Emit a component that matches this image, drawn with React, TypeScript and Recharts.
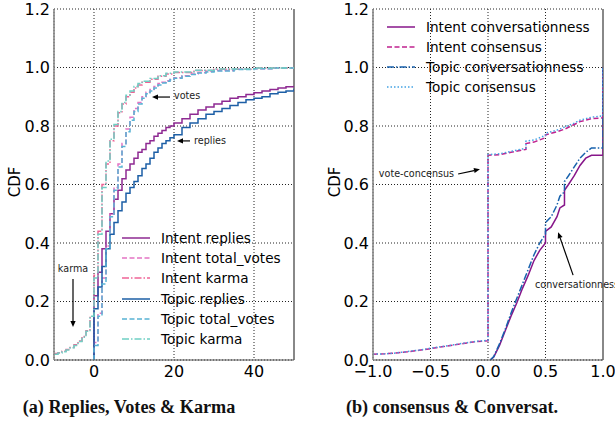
import React from "react";
import {
  LineChart,
  Line,
  XAxis,
  YAxis,
  CartesianGrid,
  ReferenceLine,
  Legend,
} from "recharts";

const FONT = "'DejaVu Sans', sans-serif";

// (a) replies / votes / karma — empirical CDFs
const replyX = [0, 0, 1, 2, 3, 4, 5, 6, 7, 8, 9, 10, 11, 12, 13, 14, 15, 16, 17, 18, 19, 20, 22, 24, 26, 28, 30, 32, 34, 36, 38, 40, 42, 44, 46, 48, 50];
const intentRepliesY = [0, 0.22, 0.3, 0.38, 0.44, 0.5, 0.55, 0.58, 0.62, 0.65, 0.67, 0.69, 0.71, 0.72, 0.74, 0.75, 0.765, 0.775, 0.785, 0.795, 0.8, 0.81, 0.825, 0.84, 0.855, 0.865, 0.875, 0.885, 0.895, 0.9, 0.908, 0.914, 0.92, 0.925, 0.93, 0.934, 0.938];
const topicRepliesY = [0, 0.175, 0.25, 0.32, 0.38, 0.43, 0.47, 0.51, 0.54, 0.57, 0.59, 0.61, 0.63, 0.655, 0.67, 0.69, 0.71, 0.725, 0.74, 0.75, 0.76, 0.77, 0.795, 0.81, 0.825, 0.84, 0.85, 0.86, 0.87, 0.88, 0.89, 0.895, 0.9, 0.91, 0.915, 0.92, 0.927];

const votesX = [0, 0, 1, 2, 3, 4, 5, 6, 7, 8, 9, 10, 11, 12, 13, 14, 15, 16, 17, 18, 19, 20, 22, 24, 26, 28, 30, 35, 40, 45, 50];
const intentVotesY = [0, 0.06, 0.16, 0.28, 0.39, 0.5, 0.59, 0.67, 0.74, 0.79, 0.83, 0.86, 0.88, 0.9, 0.915, 0.925, 0.935, 0.945, 0.95, 0.955, 0.96, 0.965, 0.972, 0.978, 0.983, 0.987, 0.99, 0.994, 0.996, 0.998, 0.999];
const topicVotesY = [0, 0.05, 0.15, 0.26, 0.38, 0.49, 0.58, 0.66, 0.73, 0.78, 0.82, 0.85, 0.875, 0.895, 0.91, 0.92, 0.93, 0.94, 0.947, 0.953, 0.958, 0.963, 0.97, 0.976, 0.981, 0.985, 0.988, 0.993, 0.996, 0.998, 0.999];

const karmaX = [-10, -9, -8, -7, -6, -5, -4, -3, -2, -1, 0, 1, 2, 3, 4, 5, 6, 7, 8, 9, 10, 11, 12, 14, 16, 18, 20, 25, 30, 40, 50];
const intentKarmaY = [0.022, 0.025, 0.03, 0.036, 0.043, 0.052, 0.065, 0.08, 0.1, 0.145, 0.29, 0.44, 0.6, 0.67, 0.75, 0.8, 0.845, 0.875, 0.9, 0.915, 0.93, 0.94, 0.95, 0.96, 0.97, 0.978, 0.983, 0.99, 0.994, 0.998, 1.0];
const topicKarmaY = [0.02, 0.024, 0.028, 0.034, 0.042, 0.05, 0.063, 0.078, 0.098, 0.15, 0.28, 0.43, 0.59, 0.68, 0.755, 0.805, 0.85, 0.88, 0.905, 0.92, 0.935, 0.945, 0.953, 0.962, 0.972, 0.98, 0.985, 0.991, 0.995, 0.998, 1.0];

// (b) consensus & conversationness
const consensusX = [-1, -0.9, -0.8, -0.7, -0.6, -0.5, -0.4, -0.3, -0.2, -0.1, 0, 0, 0.1, 0.2, 0.33, 0.33, 0.4, 0.5, 0.5, 0.6, 0.67, 0.75, 0.8, 0.9, 1, 1];
const intentConsensusY = [0.02, 0.021, 0.024, 0.028, 0.033, 0.039, 0.045, 0.051, 0.057, 0.063, 0.066, 0.7, 0.702, 0.71, 0.72, 0.74, 0.745, 0.76, 0.77, 0.78, 0.79, 0.805, 0.815, 0.825, 0.828, 1.0];
const topicConsensusY = [0.02, 0.021, 0.024, 0.029, 0.034, 0.04, 0.046, 0.052, 0.058, 0.064, 0.067, 0.702, 0.705, 0.713, 0.724, 0.748, 0.752, 0.768, 0.775, 0.786, 0.797, 0.81, 0.82, 0.83, 0.835, 1.0];

const conversX = [0.02, 0.05, 0.1, 0.15, 0.2, 0.25, 0.3, 0.35, 0.4, 0.45, 0.5, 0.5, 0.55, 0.6, 0.625, 0.665, 0.665, 0.7, 0.75, 0.8, 0.85, 0.9, 1, 1];
const intentConversY = [0, 0.01, 0.05, 0.1, 0.15, 0.195, 0.245, 0.29, 0.34, 0.375, 0.4, 0.44, 0.455, 0.49, 0.52, 0.53, 0.58, 0.6, 0.63, 0.665, 0.69, 0.7, 0.7, 1.0];
const topicConversY = [0, 0.012, 0.055, 0.105, 0.16, 0.21, 0.26, 0.31, 0.36, 0.4, 0.43, 0.47, 0.49, 0.53, 0.56, 0.575, 0.61, 0.63, 0.66, 0.69, 0.71, 0.725, 0.725, 1.0];

const yTicks = [0, 0.2, 0.4, 0.6, 0.8, 1.0, 1.2];
const leftXTicks = [0, 20, 40];
const rightXTicks = [-1, -0.5, 0, 0.5, 1];

const zip = (xs: number[], ys: number[]) => xs.map((x, i) => ({ x, y: ys[i] }));

type Series = {
  name: string;
  data: { x: number; y: number }[];
  color: string;
  dash?: string;
  curve: "stepAfter" | "linear";
};

const DASH = "5 2.5";
const DASHDOT = "7 2 1.5 2";
const DOT = "1.5 2";

const leftSeries: Series[] = [
  { name: "Intent replies", data: zip(replyX, intentRepliesY), color: "#8e2a92", curve: "stepAfter" },
  { name: "Intent total_votes", data: zip(votesX, intentVotesY), color: "#e374c4", dash: DASH, curve: "stepAfter" },
  { name: "Intent karma", data: zip(karmaX, intentKarmaY), color: "#ef6496", dash: DASHDOT, curve: "stepAfter" },
  { name: "Topic replies", data: zip(replyX, topicRepliesY), color: "#1d5fa6", curve: "stepAfter" },
  { name: "Topic total_votes", data: zip(votesX, topicVotesY), color: "#58b2d4", dash: DASH, curve: "stepAfter" },
  { name: "Topic karma", data: zip(karmaX, topicKarmaY), color: "#6fcfc4", dash: DASHDOT, curve: "stepAfter" },
];

const rightSeries: Series[] = [
  { name: "Intent conversationness", data: zip(conversX, intentConversY), color: "#87168a", curve: "linear" },
  { name: "Intent consensus", data: zip(consensusX, intentConsensusY), color: "#c0228f", dash: DASH, curve: "linear" },
  { name: "Topic conversationness", data: zip(conversX, topicConversY), color: "#1862ad", dash: DASHDOT, curve: "linear" },
  { name: "Topic consensus", data: zip(consensusX, topicConsensusY), color: "#43a2e4", dash: DOT, curve: "linear" },
];

type Note = {
  text: string;
  from: { x: number; y: number };
  to: { x: number; y: number };
  anchor: "start" | "middle" | "end";
  dx: number;
  dy: number;
};

const leftNotes: Note[] = [
  { text: "votes", from: { x: 19, y: 0.899 }, to: { x: 14.5, y: 0.899 }, anchor: "start", dx: 4, dy: -2 },
  { text: "replies", from: { x: 24, y: 0.749 }, to: { x: 20.75, y: 0.749 }, anchor: "start", dx: 4, dy: 0 },
  { text: "karma", from: { x: -5.25, y: 0.277 }, to: { x: -5.25, y: 0.113 }, anchor: "middle", dx: 0, dy: -10 },
];

const rightNotes: Note[] = [
  { text: "vote-concensus", from: { x: -0.26, y: 0.636 }, to: { x: -0.07, y: 0.652 }, anchor: "end", dx: -4, dy: 0 },
  { text: "conversationness", from: { x: 0.74, y: 0.29 }, to: { x: 0.61, y: 0.437 }, anchor: "start", dx: -38, dy: 9 },
];

const arrowShape = (n: Note) => (p: any) => {
  const { x1, y1, x2, y2 } = p;
  const ang = Math.atan2(y2 - y1, x2 - x1);
  const c = Math.cos(ang);
  const s = Math.sin(ang);
  const bx = x2 - 6 * c;
  const by = y2 - 6 * s;
  const pts = `${x2},${y2} ${bx - 2.6 * s},${by + 2.6 * c} ${bx + 2.6 * s},${by - 2.6 * c}`;
  return (
    <g>
      <line x1={x1} y1={y1} x2={bx} y2={by} stroke="#000" strokeWidth={1.2} />
      <polygon points={pts} fill="#000" />
      <text
        x={x1 + n.dx}
        y={y1 + n.dy}
        textAnchor={n.anchor}
        dominantBaseline="central"
        fontSize={9.6}
        fontFamily={FONT}
        fill="#222"
      >
        {n.text}
      </text>
    </g>
  );
};

function LegendBox({ items, rowH }: { items: Series[]; rowH: number }) {
  return (
    <div style={{ fontFamily: FONT, fontSize: 13.6, color: "#000" }}>
      {items.map((s) => (
        <div key={s.name} style={{ display: "flex", alignItems: "center", height: rowH, whiteSpace: "nowrap" }}>
          <svg width={28} height={8} style={{ marginRight: 11 }}>
            <line x1={0} y1={4} x2={28} y2={4} stroke={s.color} strokeWidth={1.5} strokeDasharray={s.dash} />
          </svg>
          <span>{s.name}</span>
        </div>
      ))}
    </div>
  );
}

const tickStyle = { fill: "#000", fontSize: 16, fontFamily: FONT };
const fmt1 = (v: number) => (v < 0 ? "\u2212" + Math.abs(v).toFixed(1) : v.toFixed(1));

function Panel(props: {
  width: number;
  yAxisW: number;
  marginRight: number;
  domain: [number, number];
  xTicks: number[];
  xFmt?: (v: number) => string;
  series: Series[];
  notes: Note[];
  legendPos: { left: number; top: number };
  rowH: number;
}) {
  const { width, yAxisW, marginRight, domain, xTicks, xFmt, series, notes, legendPos, rowH } = props;
  return (
    <LineChart width={width} height={400} margin={{ top: 9, right: marginRight, bottom: 10, left: 0 }}>
      <CartesianGrid stroke="#222" strokeDasharray="1 2" strokeWidth={1} />
      <XAxis
        type="number"
        dataKey="x"
        domain={domain}
        ticks={xTicks}
        tickFormatter={xFmt}
        allowDataOverflow
        height={30}
        tickSize={0}
        tickMargin={6}
        tick={tickStyle}
        axisLine={{ stroke: "#555", strokeWidth: 1.2 }}
      />
      <YAxis
        type="number"
        domain={[0, 1.2]}
        ticks={yTicks}
        tickFormatter={(v: number) => v.toFixed(1)}
        allowDataOverflow
        width={yAxisW}
        tickSize={0}
        tickMargin={4}
        tick={tickStyle}
        axisLine={{ stroke: "#888", strokeWidth: 1.6 }}
      />
      <ReferenceLine x={domain[1]} stroke="#888" strokeWidth={2} />
      {series.map((s) => (
        <Line
          key={s.name}
          name={s.name}
          data={s.data}
          dataKey="y"
          type={s.curve}
          stroke={s.color}
          strokeWidth={1.5}
          strokeDasharray={s.dash}
          dot={false}
          activeDot={false}
          isAnimationActive={false}
        />
      ))}
      {notes.map((n) => (
        <ReferenceLine key={n.text} segment={[n.from, n.to]} ifOverflow="visible" shape={arrowShape(n)} />
      ))}
      <Legend
        layout="vertical"
        align="center"
        verticalAlign="middle"
        content={() => <LegendBox items={series} rowH={rowH} />}
        wrapperStyle={{ left: legendPos.left, top: legendPos.top, width: 230 }}
      />
    </LineChart>
  );
}

const capStyle: React.CSSProperties = {
  position: "absolute",
  top: 397,
  fontFamily: "'Liberation Serif', serif",
  fontWeight: "bold",
  fontSize: 18.2,
  color: "#111",
  transform: "translateX(-50%)",
  whiteSpace: "nowrap",
};

const cdfStyle: React.CSSProperties = {
  position: "absolute",
  top: 182,
  fontFamily: FONT,
  fontSize: 15,
  color: "#000",
  transform: "translate(-50%, -50%) rotate(-90deg)",
};

export default function App() {
  return (
    <div style={{ position: "absolute", left: 0, top: 0, width: 615, height: 435, background: "#fff", overflow: "hidden" }}>
      <div style={{ position: "absolute", left: 0, top: 0 }}>
        <Panel
          width={300}
          yAxisW={54}
          marginRight={6}
          domain={[-10, 50]}
          xTicks={leftXTicks}
          series={leftSeries}
          notes={leftNotes}
          legendPos={{ left: 122, top: 228 }}
          rowH={20.2}
        />
      </div>
      <div style={{ position: "absolute", left: 300, top: 0 }}>
        <Panel
          width={315}
          yAxisW={73}
          marginRight={12}
          domain={[-1, 1]}
          xTicks={rightXTicks}
          xFmt={fmt1}
          series={rightSeries}
          notes={rightNotes}
          legendPos={{ left: 87, top: 17 }}
          rowH={20}
        />
      </div>
      <div style={{ ...cdfStyle, left: 15 }}>CDF</div>
      <div style={{ ...cdfStyle, left: 335 }}>CDF</div>
      <div style={{ ...capStyle, left: 129 }}>(a) Replies, Votes &amp; Karma</div>
      <div style={{ ...capStyle, left: 452 }}>(b) consensus &amp; Conversat.</div>
    </div>
  );
}
